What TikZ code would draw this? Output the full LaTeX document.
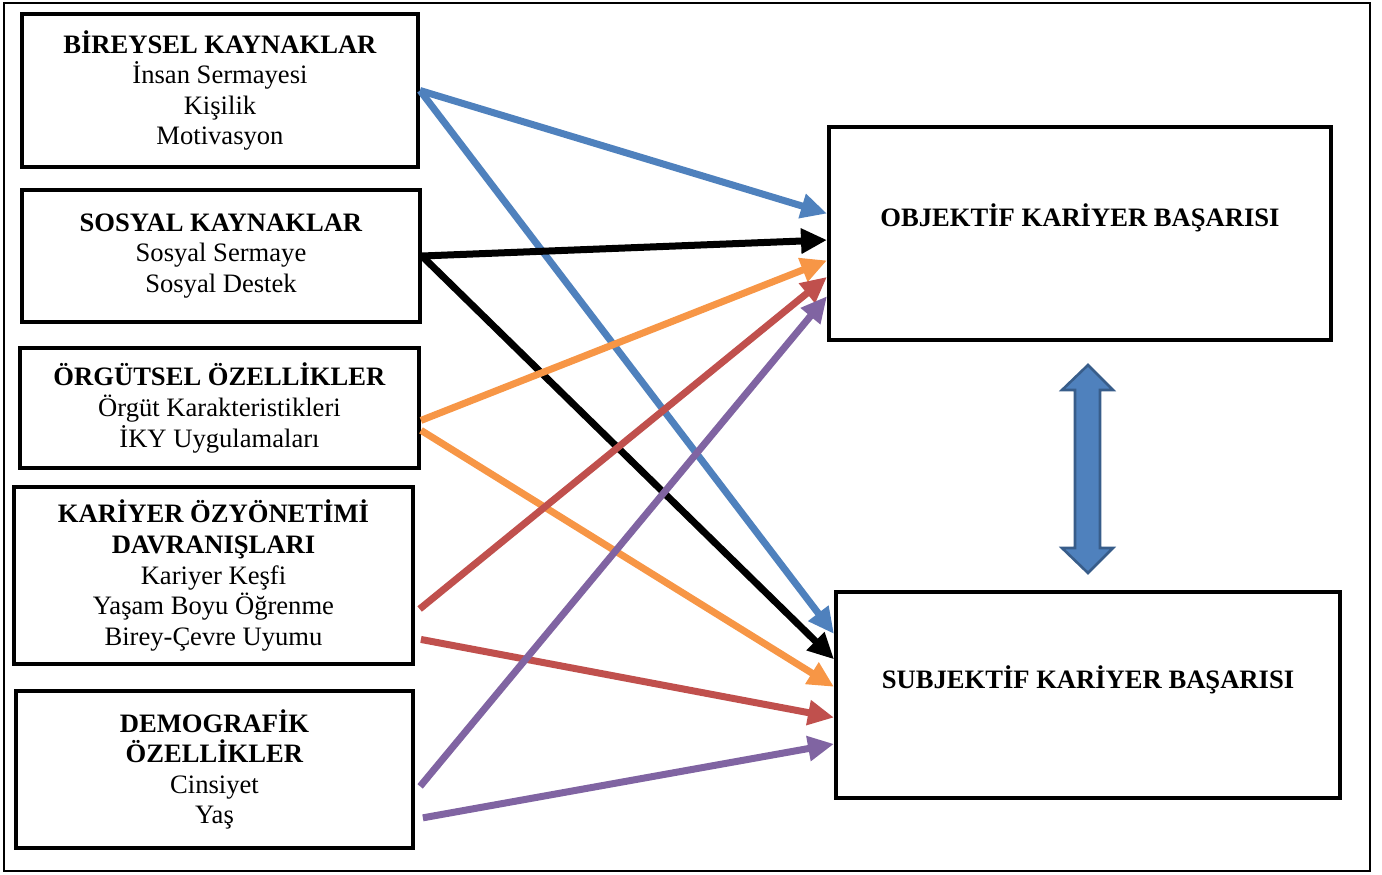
\documentclass[tikz,border=0pt]{standalone}
\usepackage{fontspec}
\setmainfont{Liberation Serif}
\usetikzlibrary{arrows.meta,calc}

\definecolor{blueline}{HTML}{4F81BD}
\definecolor{bluedark}{HTML}{385D8A}
\definecolor{orangeline}{HTML}{F79646}
\definecolor{redline}{HTML}{C0504D}
\definecolor{purpleline}{HTML}{8064A2}

\begin{document}
\begin{tikzpicture}[x=0.5pt, y=-0.5pt,
        box/.style={draw, rectangle, line width=2pt, align=center, inner sep=0pt, font=\fontsize{13.3}{15.3}\selectfont},
        heading/.style={align=center, inner sep=0pt, font=\fontsize{13.3}{15.3}\selectfont\bfseries},
        arrow/.style={-{Triangle[length=13pt, width=12pt]}, line width=3.5pt}
    ]
    \useasboundingbox (0,0) rectangle (1382,874);

    % Outer frame
    \draw[line width=1.2pt] (4,3) rectangle (1370,871);

    % Left blocks
    \node[box, minimum width=198pt, minimum height=76.5pt] (bireysel) at (220,90.5)
        {\textbf{BİREYSEL KAYNAKLAR}\\İnsan Sermayesi\\Kişilik\\Motivasyon};
    \node[box, minimum width=199pt, minimum height=66pt] (sosyal) at (221,256)
        {\textbf{SOSYAL KAYNAKLAR}\\Sosyal Sermaye\\Sosyal Destek};
    \node[box, minimum width=199.5pt, minimum height=60pt] (orgutsel) at (219.5,408)
        {\textbf{ÖRGÜTSEL ÖZELLİKLER}\\Örgüt Karakteristikleri\\İKY Uygulamaları};
    \node[box, minimum width=199.5pt, minimum height=88.5pt] (kariyer) at (213.5,575.5)
        {\textbf{KARİYER ÖZYÖNETİMİ}\\\textbf{DAVRANIŞLARI}\\Kariyer Keşfi\\Yaşam Boyu Öğrenme\\Birey-Çevre Uyumu};
    \node[box, minimum width=198.5pt, minimum height=78.5pt] (demografik) at (214.5,769.5)
        {\textbf{DEMOGRAFİK}\\\textbf{ÖZELLİKLER}\\Cinsiyet\\Yaş};

    % Right blocks
    \node[box, minimum width=251pt, minimum height=106.5pt] (objektif) at (1080,233.5) {};
    \node[heading] (objektiftext) at (1080,218) {OBJEKTİF KARİYER BAŞARISI};
    \node[box, minimum width=252pt, minimum height=103pt] (subjektif) at (1088,695) {};
    \node[heading] (subjektiftext) at (1088,680) {SUBJEKTİF KARİYER BAŞARISI};

    % Two-way link between the outcomes
    \draw[fill=blueline, draw=bluedark, line width=1.3pt]
        (1088,365) -- (1113,390) -- (1100,390) -- (1100,548) -- (1113,548) -- (1088,573)
        -- (1062,548) -- (1075,548) -- (1075,390) -- (1062,390) -- cycle;

    % Paths
    \draw[arrow, blueline] (bireysel.east) -- ($(objektif.north west)!0.408!(objektif.south west)$);
    \draw[arrow, blueline] (bireysel.east) -- ($(subjektif.north west)!0.209!(subjektif.south west)$);
    \draw[arrow, black] (sosyal.east) -- ($(objektif.north west)!0.53!(objektif.south west)$);
    \draw[arrow, black] (sosyal.east) -- ($(subjektif.north west)!0.33!(subjektif.south west)$);
    \draw[arrow, orangeline] ($(orgutsel.north east)!0.6!(orgutsel.south east)$) -- ($(objektif.north west)!0.624!(objektif.south west)$);
    \draw[arrow, orangeline] ($(orgutsel.north east)!0.68!(orgutsel.south east)$) -- ($(subjektif.north west)!0.461!(subjektif.south west)$);
    \draw[arrow, redline, shorten <=3pt] ($(kariyer.north east)!0.706!(kariyer.south east)$) -- ($(objektif.north west)!0.70!(objektif.south west)$);
    \draw[arrow, redline, shorten <=3pt] ($(kariyer.north east)!0.847!(kariyer.south east)$) -- ($(subjektif.north west)!0.607!(subjektif.south west)$);
    \draw[arrow, purpleline, shorten <=4pt] ($(demografik.north east)!0.643!(demografik.south east)$) -- ($(objektif.north west)!0.789!(objektif.south west)$);
    \draw[arrow, purpleline, shorten <=4pt] ($(demografik.north east)!0.809!(demografik.south east)$) -- ($(subjektif.north west)!0.733!(subjektif.south west)$);

\end{tikzpicture}
\end{document}
